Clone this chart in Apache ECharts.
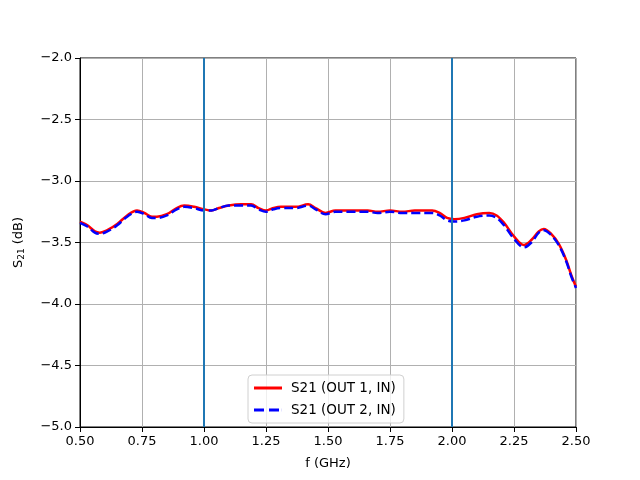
<!DOCTYPE html>
<html>
<head>
<meta charset="utf-8">
<script src="https://cdn.jsdelivr.net/npm/echarts@6/dist/echarts.min.js"></script>
<style>html,body{margin:0;padding:0;background:#fff}#c{width:640px;height:480px}</style>
</head>
<body>
<div id="c"></div>
<script>
const freqOut1 = [0.50,0.53,0.56,0.58,0.61,0.65,0.69,0.73,0.76,0.79,0.81,0.85,0.89,0.92,0.96,1.00,1.03,1.06,1.10,1.15,1.19,1.22,1.25,1.28,1.31,1.37,1.42,1.45,1.49,1.53,1.58,1.66,1.70,1.75,1.80,1.85,1.92,1.95,1.98,2.01,2.05,2.10,2.15,2.18,2.21,2.25,2.29,2.32,2.35,2.37,2.40,2.43,2.46,2.48,2.50];
const s21Out1 = [-3.33,-3.36,-3.41,-3.42,-3.40,-3.35,-3.28,-3.24,-3.26,-3.29,-3.29,-3.27,-3.22,-3.20,-3.21,-3.23,-3.24,-3.22,-3.20,-3.19,-3.19,-3.22,-3.24,-3.22,-3.21,-3.21,-3.19,-3.22,-3.26,-3.24,-3.24,-3.24,-3.25,-3.24,-3.25,-3.24,-3.24,-3.26,-3.30,-3.31,-3.30,-3.27,-3.26,-3.28,-3.34,-3.45,-3.52,-3.48,-3.41,-3.39,-3.43,-3.51,-3.64,-3.76,-3.86];
const freqOut2 = [0.50,0.53,0.56,0.58,0.61,0.65,0.69,0.73,0.76,0.79,0.81,0.85,0.89,0.92,0.96,1.00,1.03,1.06,1.10,1.15,1.19,1.22,1.25,1.28,1.31,1.37,1.42,1.45,1.49,1.53,1.58,1.66,1.70,1.75,1.80,1.85,1.92,1.95,1.98,2.01,2.05,2.10,2.15,2.18,2.21,2.25,2.29,2.32,2.35,2.37,2.40,2.43,2.46,2.48,2.50];
const s21Out2 = [-3.34,-3.37,-3.42,-3.43,-3.41,-3.36,-3.29,-3.25,-3.27,-3.30,-3.30,-3.28,-3.23,-3.21,-3.22,-3.24,-3.24,-3.22,-3.20,-3.20,-3.20,-3.23,-3.25,-3.23,-3.22,-3.22,-3.20,-3.23,-3.27,-3.25,-3.25,-3.25,-3.26,-3.25,-3.26,-3.26,-3.26,-3.28,-3.32,-3.33,-3.32,-3.29,-3.28,-3.30,-3.36,-3.47,-3.54,-3.50,-3.42,-3.40,-3.44,-3.52,-3.65,-3.77,-3.87];
const markerFreqs = [1.0, 2.0];
const seriesNames = ['S21 (OUT 1, IN)', 'S21 (OUT 2, IN)'];

const font = 'DejaVu Sans';
const pair = (xs, ys) => xs.map((x, i) => [x, ys[i]]);
const chart = echarts.init(document.getElementById('c'), null, {renderer: 'canvas'});
chart.setOption({
  animation: false,
  backgroundColor: '#fff',
  textStyle: {fontFamily: font},
  grid: {left: 80, right: 64, top: 58, bottom: 53, show: true, borderColor: '#000', borderWidth: 1, backgroundColor: 'transparent'},
  xAxis: {
    type: 'value', min: 0.5, max: 2.5, interval: 0.25,
    name: 'f (GHz)', nameLocation: 'middle', nameGap: 30,
    nameTextStyle: {fontFamily: font, fontSize: 13, color: '#000'},
    axisLine: {show: true, onZero: false, lineStyle: {color: '#000', width: 1}},
    axisTick: {show: true, length: 5, lineStyle: {color: '#000'}},
    axisLabel: {fontFamily: font, fontSize: 13, color: '#000', margin: 8, formatter: v => v.toFixed(2)},
    splitLine: {show: true, lineStyle: {color: '#b0b0b0', width: 1}}
  },
  yAxis: {
    type: 'value', min: -5, max: -2, interval: 0.5,
    name: '{s|S}{sub|21}{s| (dB)}', nameLocation: 'middle', nameGap: 54, nameRotate: 90,
    nameTextStyle: {fontFamily: font, fontSize: 13, color: '#000',
      rich: {s: {fontFamily: font, fontSize: 13, color: '#000'}, sub: {fontFamily: font, fontSize: 9, color: '#000', verticalAlign: 'bottom', padding: [6, 0, 0, 0]}}},
    axisLine: {show: true, onZero: false, lineStyle: {color: '#000', width: 1}},
    axisTick: {show: true, length: 5, lineStyle: {color: '#000'}},
    axisLabel: {fontFamily: font, fontSize: 13, color: '#000', margin: 8, formatter: v => v.toFixed(1).replace('-', '\u2212')},
    splitLine: {show: true, lineStyle: {color: '#b0b0b0', width: 1}}
  },
  legend: {
    orient: 'vertical', left: 248, top: 375,
    backgroundColor: 'rgba(255,255,255,0.8)', borderColor: '#d0d0d0', borderWidth: 1, borderRadius: 4,
    padding: [6, 8, 6, 6], itemGap: 8, itemWidth: 28, itemHeight: 3,
    textStyle: {fontFamily: font, fontSize: 13.5, color: '#000', padding: [0, 0, 0, 4]},
    data: [
      {name: seriesNames[0], icon: 'path://M0,0H28V3H0Z'},
      {name: seriesNames[1], icon: 'path://M0,0H10V3H0Z M15,0H25V3H15Z M27.9,0H28V3H27.9Z'}
    ]
  },
  series: [
    {
      name: seriesNames[0], type: 'line', data: pair(freqOut1, s21Out1),
      smooth: 0.35, showSymbol: false, symbol: 'none', z: 2,
      lineStyle: {color: '#ff0000', width: 2.5}, itemStyle: {color: '#ff0000'},
      markLine: {
        silent: true, symbol: ['none', 'none'], label: {show: false},
        lineStyle: {color: '#1f77b4', width: 2, type: 'solid'},
        data: markerFreqs.map(f => ({xAxis: f}))
      }
    },
    {
      name: seriesNames[1], type: 'line', data: pair(freqOut2, s21Out2),
      smooth: 0.35, showSymbol: false, symbol: 'none', z: 3,
      lineStyle: {color: '#0000ff', width: 2.5, type: [9, 4]}, itemStyle: {color: '#0000ff'}
    }
  ]
});
</script>
</body>
</html>
